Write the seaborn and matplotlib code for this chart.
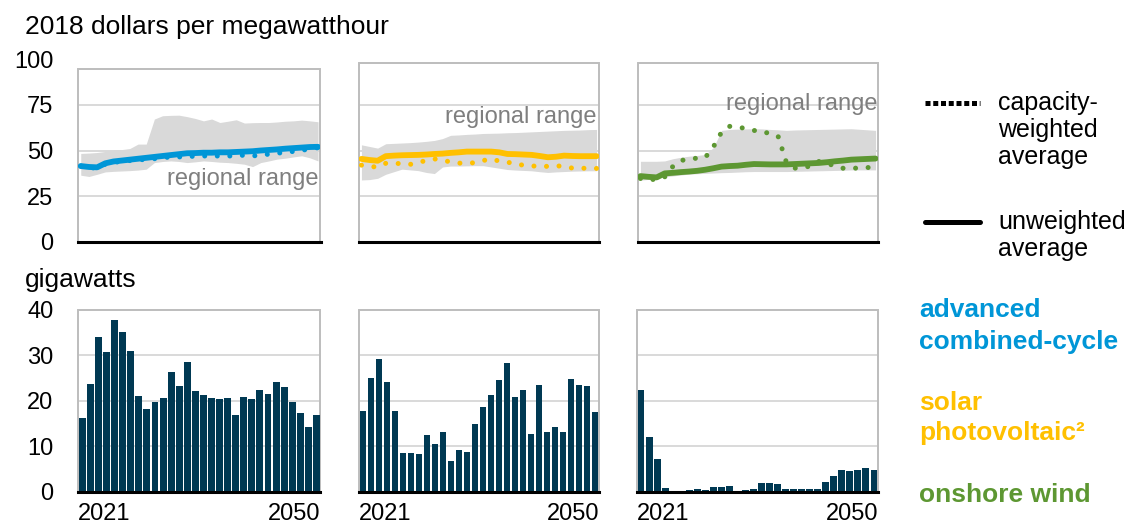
import matplotlib
matplotlib.use("Agg")
import matplotlib.pyplot as plt
import seaborn as sns
import numpy as np
import pandas as pd
from matplotlib.patches import Rectangle
from matplotlib.lines import Line2D

# ---------------- data ----------------
years = list(range(2021, 2051))

# levelized cost, 2018 $/MWh
ngcc_unweighted = [41.5, 41.0, 40.8, 43.0, 44.0, 44.5, 45.0, 45.5, 46.0, 46.5, 47.0, 47.5, 48.0, 48.5, 48.6,
                   48.8, 48.8, 49.0, 49.0, 49.2, 49.4, 49.6, 50.0, 50.3, 50.6, 51.0, 51.3, 51.6, 51.9, 52.0]
ngcc_weighted = [41.5, 40.5, 40.5, 42.5, 43.5, 44.0, 44.5, 45.0, 45.0, 45.5, 46.0, 46.5, 46.5, 46.5, 47.0,
                 47.0, 47.0, 47.0, 47.0, 47.0, 47.5, 47.0, 47.5, 48.0, 48.5, 49.0, 49.5, 50.0, 51.0, 51.5]
ngcc_high = [48.4, 48.6, 48.9, 49.5, 50.0, 50.5, 51.1, 53.5, 53.5, 67.2, 69.0, 69.2, 69.3, 68.5, 67.5,
             66.2, 67.2, 65.3, 66.0, 66.8, 65.0, 65.2, 65.3, 65.3, 65.6, 66.0, 66.2, 66.6, 66.2, 65.7]
ngcc_low = [36.5, 35.8, 37.0, 38.3, 38.6, 38.8, 39.0, 39.3, 39.8, 43.4, 44.0, 44.3, 44.0, 43.4, 43.8,
            44.3, 44.0, 43.6, 43.4, 43.0, 42.5, 41.2, 43.4, 44.3, 45.3, 45.8, 46.5, 47.1, 46.0, 44.3]

solar_unweighted = [45.4, 44.8, 44.4, 46.9, 47.2, 47.4, 47.5, 47.6, 47.8, 48.1, 48.3, 48.7, 49.0, 49.4, 49.4,
                    49.4, 49.4, 49.0, 48.1, 48.0, 47.8, 47.6, 47.0, 46.3, 46.6, 47.2, 47.0, 46.9, 46.9, 46.9]
solar_weighted = [42.0, 41.2, 41.0, 43.0, 43.0, 42.8, 42.4, 43.5, 44.5, 45.4, 44.6, 43.8, 43.1, 43.1, 43.3,
                  44.5, 45.4, 44.2, 43.5, 43.1, 41.8, 41.5, 41.5, 41.3, 41.7, 41.2, 40.4, 40.3, 40.3, 40.2]
solar_high = [53.1, 52.2, 51.3, 53.7, 53.9, 54.1, 54.3, 54.6, 55.0, 55.5, 56.5, 58.3, 58.5, 58.8, 59.0,
              59.3, 59.4, 59.5, 59.7, 59.8, 60.0, 60.2, 60.4, 60.6, 60.8, 61.0, 61.1, 61.2, 61.4, 61.5]
solar_low = [33.9, 34.1, 34.8, 37.0, 38.4, 39.8, 39.4, 39.0, 38.0, 37.4, 41.0, 41.5, 41.5, 41.6, 41.7,
             41.7, 41.0, 40.3, 39.6, 39.3, 39.1, 38.9, 38.4, 38.0, 38.3, 38.5, 38.7, 38.8, 38.9, 38.9]

wind_unweighted = [36.0, 35.6, 35.3, 37.5, 37.8, 38.2, 38.5, 38.9, 39.5, 40.3, 41.2, 41.5, 41.7, 42.2, 42.6,
                   42.5, 42.4, 42.4, 42.4, 42.6, 42.8, 43.0, 43.2, 43.6, 44.1, 44.5, 45.0, 45.2, 45.4, 45.6]
wind_weighted = [34.7, 34.5, 33.9, 35.6, 41.3, 44.5, 45.4, 45.8, 46.2, 52.0, 60.0, 63.2, 62.8, 62.0, 61.0,
                 59.7, 59.7, 57.5, 43.5, 40.3, 41.0, 41.3, 44.0, 43.0, 41.5, 40.3, 40.3, 40.4, 40.7, 40.7]
wind_high = [44.1, 44.1, 44.1, 44.3, 45.5, 46.3, 46.9, 47.3, 47.8, 51.6, 61.0, 61.5, 61.7, 61.8, 61.9,
             61.8, 61.5, 61.3, 61.0, 61.2, 61.3, 61.4, 61.5, 61.6, 61.7, 61.8, 61.9, 61.6, 61.3, 61.0]
wind_low = [33.8, 34.2, 34.8, 35.6, 36.1, 36.6, 37.1, 37.3, 37.5, 37.7, 37.9, 38.0, 38.2, 38.4, 38.5,
            38.5, 38.5, 38.5, 38.5, 38.6, 38.7, 38.8, 38.9, 39.0, 39.1, 39.2, 39.4, 39.4, 39.4, 39.4]

# capacity additions, gigawatts
ngcc_gw = [16.1, 23.7, 34.0, 30.6, 37.7, 35.0, 30.9, 21.0, 18.1, 19.6, 20.5, 26.2, 23.1, 28.4, 22.2,
           21.3, 20.5, 20.3, 20.6, 16.8, 20.7, 20.3, 22.3, 21.4, 24.0, 22.9, 19.6, 17.2, 14.2, 16.8]
solar_gw = [17.7, 24.9, 29.2, 24.1, 17.7, 8.6, 8.4, 8.2, 12.5, 10.4, 13.1, 6.7, 9.2, 8.8, 14.9,
            18.5, 21.3, 24.5, 28.2, 20.7, 22.4, 12.6, 23.5, 13.0, 14.1, 13.2, 24.8, 23.5, 23.2, 17.6]
wind_gw = [22.3, 12.0, 7.1, 0.8, 0.1, 0.15, 0.4, 0.6, 0.4, 1.1, 1.1, 1.3, 0.15, 0.4, 0.5,
           2.0, 2.0, 1.7, 0.6, 0.6, 0.5, 0.5, 0.7, 2.1, 3.4, 4.8, 4.5, 4.8, 5.2, 4.8]

tech_colors = ["#0096D7", "#FFC000", "#5D9732"]
cost_unweighted = [ngcc_unweighted, solar_unweighted, wind_unweighted]
cost_weighted = [ngcc_weighted, solar_weighted, wind_weighted]
cost_high = [ngcc_high, solar_high, wind_high]
cost_low = [ngcc_low, solar_low, wind_low]
capacity = [ngcc_gw, solar_gw, wind_gw]

cost_ticks = [0, 25, 50, 75, 100]
gw_ticks = [0, 10, 20, 30, 40]
x_tick_labels = ["2021", "2050"]

BAR_COLOR = "#003953"
RANGE_COLOR = "#D9D9D9"
GRID_COLOR = "#D9D9D9"
FRAME_COLOR = "#BDBDBD"

# ---------------- style ----------------
sns.set_theme(style="white")
plt.rcParams["font.family"] = ["Liberation Sans", "DejaVu Sans"]
plt.rcParams["text.color"] = "black"
plt.rcParams["xtick.color"] = "black"
plt.rcParams["ytick.color"] = "black"
plt.rcParams["xtick.labelcolor"] = "black"
plt.rcParams["ytick.labelcolor"] = "black"

W, H = 1136, 523
fig = plt.figure(figsize=(W / 100, H / 100), dpi=100)


def px_axes(x0, x1, ytop, ybot):
    return fig.add_axes([x0 / W, (H - ybot) / H, (x1 - x0) / W, (ybot - ytop) / H])


top_x = [(78.3, 320.5), (359, 599), (638, 878)]
bot_x = [(78.3, 320.5), (359, 599), (637, 878)]
frame_top = [0.945, 0.978, 0.978]
range_label_pos = [(2050, 34.5), (2050, 68.5), (2050.3, 75.5)]

df_cost = pd.DataFrame({"year": years})

for i in range(3):
    # ---- top: levelized costs ----
    ax = px_axes(top_x[i][0], top_x[i][1], 59, 242)
    ax.set_xlim(2020.7, 2050.3)
    ax.set_ylim(0, 100)
    for g in [25, 50, 75]:
        ax.axhline(g, color=GRID_COLOR, lw=1.4, zorder=0)
    ax.fill_between(years, cost_low[i], cost_high[i], color=RANGE_COLOR, lw=0, zorder=1)
    d = df_cost.assign(unw=cost_unweighted[i], wtd=cost_weighted[i])
    sns.lineplot(data=d, x="year", y="wtd", ax=ax, color=tech_colors[i], lw=3.6,
                 linestyle=(0, (0.01, 2.5)), dash_capstyle="round", zorder=3)
    sns.lineplot(data=d, x="year", y="unw", ax=ax, color=tech_colors[i], lw=4.2,
                 solid_capstyle="round", zorder=4)
    for s in ["top", "left", "right"]:
        ax.spines[s].set_visible(False)
    ax.spines["bottom"].set_color("black")
    ax.spines["bottom"].set_linewidth(2.2)
    ax.add_patch(Rectangle((0, 0), 1, frame_top[i], transform=ax.transAxes, fill=False,
                           ec=FRAME_COLOR, lw=1.4, clip_on=False, zorder=0))
    ax.set_xlabel("")
    ax.set_ylabel("")
    ax.set_xticks([])
    ax.set_yticks(cost_ticks)
    ax.tick_params(axis="y", length=0, pad=18, labelsize=17, labelcolor="black")
    if i > 0:
        ax.set_yticklabels([])
    ax.text(range_label_pos[i][0], range_label_pos[i][1], "regional range", ha="right",
            va="center", fontsize=17, color="#7F7F7F", zorder=5)

    # ---- bottom: capacity additions ----
    bx = px_axes(bot_x[i][0], bot_x[i][1], 309.5, 491.7)
    for g in [10, 20, 30]:
        bx.axhline(g, color=GRID_COLOR, lw=1.4, zorder=0)
    dcap = pd.DataFrame({"year": years, "gw": capacity[i]})
    sns.barplot(data=dcap, x="year", y="gw", ax=bx, color=BAR_COLOR, saturation=1,
                width=0.86, edgecolor="none", zorder=2)
    bx.set_xlim(-0.5, 29.5)
    bx.set_ylim(0, 40)
    for s in ["top", "left", "right"]:
        bx.spines[s].set_visible(False)
    bx.spines["bottom"].set_color("black")
    bx.spines["bottom"].set_linewidth(2.2)
    bx.spines["bottom"].set_zorder(5)
    bx.add_patch(Rectangle((0, 0), 1, 1, transform=bx.transAxes, fill=False,
                           ec=FRAME_COLOR, lw=1.4, clip_on=False, zorder=0))
    bx.set_xlabel("")
    bx.set_ylabel("")
    bx.set_xticks([-0.5, 29.5])
    bx.set_xticklabels(x_tick_labels)
    lbls = bx.get_xticklabels()
    lbls[0].set_horizontalalignment("left")
    lbls[1].set_horizontalalignment("right")
    bx.tick_params(axis="x", length=0, pad=8, labelsize=17, labelcolor="black")
    bx.set_yticks(gw_ticks)
    bx.tick_params(axis="y", length=0, pad=18, labelsize=17, labelcolor="black")
    if i > 0:
        bx.set_yticklabels([])

# axis titles
fig.text(25 / W, 1 - 27 / H, "2018 dollars per megawatthour", fontsize=19, ha="left", va="center",
         color="black")
fig.text(25 / W, 1 - 280 / H, "gigawatts", fontsize=19, ha="left", va="center", color="black")

# legend keys
fig.add_artist(Line2D([925 / W, 980 / W], [1 - 103 / H, 1 - 103 / H], transform=fig.transFigure,
                      color="black", lw=3.6, linestyle=(0, (1.0, 0.55))))
fig.add_artist(Line2D([925 / W, 980 / W], [1 - 222 / H, 1 - 222 / H], transform=fig.transFigure,
                      color="black", lw=3.6))
for txt, y in [("capacity-", 103), ("weighted", 130), ("average", 157),
               ("unweighted", 222), ("average", 249)]:
    fig.text(998 / W, 1 - y / H, txt, fontsize=18, ha="left", va="center", color="black")

# technology labels
for txt, y, c in [("advanced", 310, 0), ("combined-cycle", 342, 0), ("solar", 403, 1),
                  ("photovoltaic\u00b2", 433, 1), ("onshore wind", 495, 2)]:
    fig.text(919 / W, 1 - y / H, txt, fontsize=19, fontweight="bold", ha="left", va="center",
             color=tech_colors[c])

fig.savefig("out.png", dpi=100)
